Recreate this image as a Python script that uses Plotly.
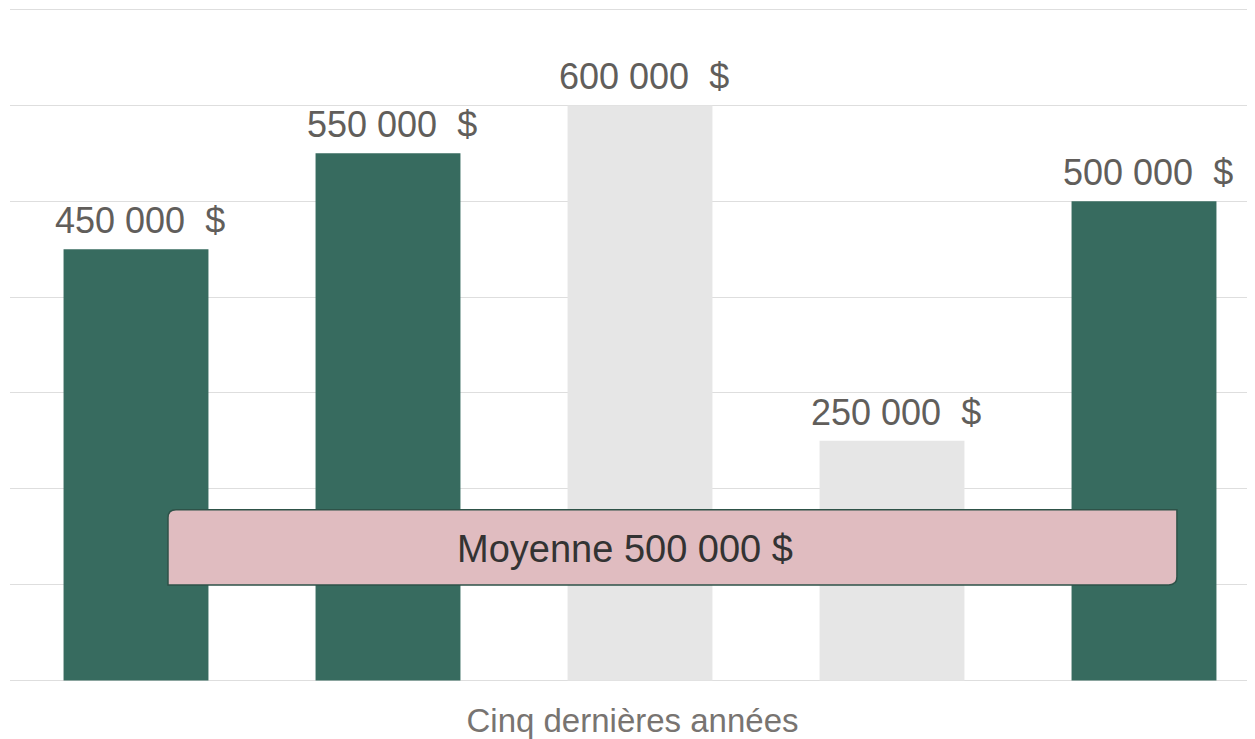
import plotly.graph_objects as go

categories = ["Année 1", "Année 2", "Année 3", "Année 4", "Année 5"]
values = [450000, 550000, 600000, 250000, 500000]
bar_colors = ["#376b5f", "#376b5f", "#e6e6e6", "#e6e6e6", "#376b5f"]
average_label = "Moyenne 500 000 $"
axis_title = "Cinq dernières années"
y_ticks = [0, 100000, 200000, 300000, 400000, 500000, 600000, 700000]

def fmt(v):
    return f"{v:,}".replace(",", "\u00a0") + "\u00a0\u00a0$"

labels = [fmt(v) for v in values]
FONT = "Liberation Sans"

fig = go.Figure()
fig.add_trace(go.Bar(
    x=list(range(len(categories))),
    y=values,
    marker=dict(color=bar_colors, line=dict(width=0)),
    hovertext=categories,
))

for i, (v, lab) in enumerate(zip(values, labels)):
    fig.add_annotation(x=i, y=v, text=lab, showarrow=False, xanchor="center",
                       yanchor="bottom", yshift=6, xshift=4,
                       font=dict(family=FONT, size=36, color="#615e5b"))

# rounded box (top-left and bottom-right corners rounded), paper coords
x0, x1 = 0.1269, 0.9373
y0, y1 = 0.1441, 0.2556
rx, ry = 8 / 1245, 8 / 673
path = (f"M {x0},{y0} L {x1 - rx},{y0} Q {x1},{y0} {x1},{y0 + ry} "
        f"L {x1},{y1} L {x0 + rx},{y1} Q {x0},{y1} {x0},{y1 - ry} Z")
fig.add_shape(type="path", path=path, xref="paper", yref="paper",
              fillcolor="#e0bcc0", line=dict(color="#2e5248", width=1.5), layer="above")
fig.add_annotation(text=average_label, xref="paper", yref="paper",
                   x=(625 - 10) / 1245, y=(681 - 548) / 673,
                   xanchor="center", yanchor="middle",
                   showarrow=False, font=dict(family=FONT, size=38, color="#333333"))

fig.update_layout(
    width=1247, height=731,
    margin=dict(l=2, r=0, t=0, b=57),
    paper_bgcolor="white", plot_bgcolor="white",
    bargap=0.425,
    showlegend=False,
    xaxis=dict(range=[-0.5, -0.5 + 1245 / 252], showticklabels=False, showgrid=False,
               zeroline=False, ticks="",
               title=dict(text=axis_title, font=dict(family=FONT, size=33, color="#787471"),
                          standoff=26)),
    yaxis=dict(range=[-1600, 701600], tickvals=y_ticks, showticklabels=False,
               gridcolor="#dedede", gridwidth=1.3, zeroline=False, ticks=""),
)
fig.write_html("out.html")
